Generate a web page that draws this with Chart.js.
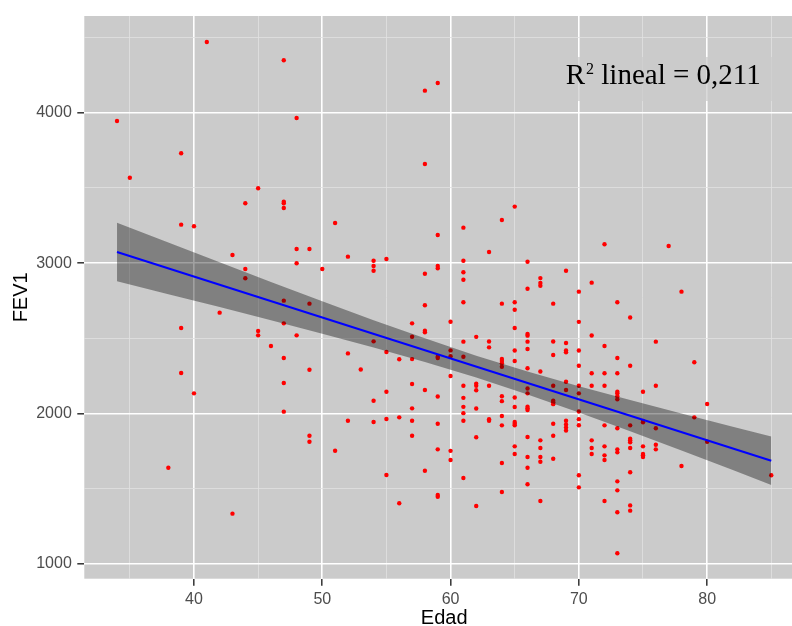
<!DOCTYPE html>
<html>
<head>
<meta charset="utf-8">
<script src="https://cdn.jsdelivr.net/npm/chart.js@4/dist/chart.umd.min.js"></script>
<style>
html,body{margin:0;padding:0;overflow:hidden;background:#ffffff;width:792px;height:626px}
#wrap{width:792px;height:626px;overflow:hidden;position:relative}
canvas{display:block}
</style>
</head>
<body>
<div id="wrap"><canvas id="c" width="804" height="626"></canvas></div>
<script>
const edad = [
  34,
  35,
  38,
  39,39,39,39,
  40,40,
  41,
  42,
  43,43,
  44,44,44,
  45,45,45,
  46,
  47,47,47,47,47,47,47,47,47,
  48,48,48,48,
  49,49,49,49,49,
  50,
  51,51,
  52,52,52,
  53,
  54,54,54,54,54,54,
  55,55,55,55,55,
  56,56,56,
  57,57,57,57,57,57,57,
  58,58,58,58,58,58,58,58,
  59,59,59,59,59,59,59,59,59,59,59,
  60,60,60,60,60,60,
  61,61,61,61,61,61,61,61,61,61,61,61,61,
  62,62,62,62,62,62,62,
  63,63,63,63,63,63,
  64,64,64,64,64,64,64,64,64,64,64,64,
  65,65,65,65,65,65,65,65,65,65,65,65,65,
  66,66,66,66,66,66,66,66,66,66,66,66,66,66,66,66,
  67,67,67,67,67,67,67,67,67,
  68,68,68,68,68,68,68,68,68,68,
  69,69,69,69,69,69,69,69,69,69,
  70,70,70,70,70,70,70,70,70,70,70,
  71,71,71,71,71,71,71,
  72,72,72,72,72,72,72,72,72,
  73,73,73,73,73,73,73,73,73,73,73,73,73,73,
  74,74,74,74,74,74,74,74,74,74,
  75,75,75,75,75,75,75,
  76,76,76,76,76,
  77,
  78,78,
  79,79,
  80,80,
  85
];
const fev1 = [
  3946,
  3568,
  1638,
  3731,3256,2568,2268,
  3245,2133,
  4472,
  2670,
  3054,1332,
  3398,2961,2899,
  3498,2548,2519,
  2448,
  4350,3409,3398,3367,2750,2599,2368,2202,2011,
  3966,3094,2999,2519,
  3094,2730,2290,1851,1811,
  2961,
  3267,1751,
  3043,2399,1951,
  2292,
  3016,2981,2949,2479,2084,1942,
  3027,2408,2144,1962,1589,
  2360,1973,1401,
  2599,2510,2361,2195,2033,1951,1851,
  4148,3660,2929,2719,2550,2539,2155,1618,
  4199,3187,2981,2966,2377,2368,2112,1931,1760,1456,1445,
  2610,2419,2380,2248,1750,1689,
  3236,3016,2939,2889,2739,2477,2377,2184,2103,2043,2001,1951,1569,
  2509,2197,2183,2154,2032,1841,1383,
  3074,2478,2439,2184,1961,1950,
  3287,2730,2362,2348,2333,2310,2114,2081,1982,1920,1669,1476,
  3376,2739,2689,2568,2418,2348,2105,2042,1942,1931,1920,1780,1729,
  3009,2829,2528,2517,2477,2428,2300,2165,2133,2044,2033,2022,1842,1709,1638,1528,
  2900,2868,2849,2278,1820,1769,1709,1678,1416,
  2730,2478,2388,2184,2084,2073,2061,1931,1851,1698,
  2949,2468,2418,2406,2210,2155,1951,1926,1905,1885,
  2810,2609,2418,2317,2184,2133,2012,1961,1921,1588,1507,
  2870,2518,2267,2184,1820,1769,1729,
  3125,2448,2267,2184,1920,1780,1720,1689,1416,
  2739,2368,2267,2144,2133,2114,2094,1901,1760,1740,1547,1487,1341,1068,
  2638,2317,1920,1831,1820,1807,1769,1608,1387,1352,
  2144,1950,1940,1780,1729,1720,1709,
  2477,2184,1901,1791,1760,
  3114,
  2810,1649,
  2340,1973,
  2062,1811,
  1588
];

// Fitted linear regression line (ends)
const fitEdad = [34, 85];
const fitFev1 = [3074, 1684];

// Confidence band
const bandEdad  = [34, 38, 42, 46, 50, 54, 58, 62, 66, 70, 74, 78, 82, 85];
const bandUpper = [3269, 3137, 3005, 2875, 2746, 2620, 2499, 2384, 2279, 2181, 2088, 1998, 1910, 1845];
const bandLower = [2879, 2793, 2707, 2619, 2530, 2438, 2342, 2238, 2125, 2005, 1880, 1752, 1622, 1523];

// Axis ticks
const xTicks = [35, 40, 45, 50, 55, 60, 65, 70, 75, 80, 85];
const xLabels = [40, 50, 60, 70, 80];
const yTicks = [1000, 1500, 2000, 2500, 3000, 3500, 4000, 4500];
const yLabels = [1000, 2000, 3000, 4000];

const annoMain = 'R';
const annoSup = '2';
const annoRest = ' lineal = 0,211';

const SANS = '"Liberation Sans", Arial, Helvetica, sans-serif';
const SERIF = '"Liberation Serif", "Times New Roman", Times, serif';
const PANEL = '#cbcbcb';

const panelBg = {
  id: 'panelBg',
  beforeDraw(chart) {
    const {ctx, chartArea: a} = chart;
    ctx.save();
    ctx.fillStyle = PANEL;
    ctx.fillRect(a.left, a.top, a.right - a.left, a.bottom - a.top);
    ctx.restore();
  },
  beforeDatasetsDraw(chart) {
    const {ctx} = chart;
    ctx.save();
    ctx.fillStyle = 'rgba(203,203,203,0.7)';
    ctx.fillRect(578, 57, 195, 44);
    ctx.restore();
  },
  afterDraw(chart) {
    const {ctx} = chart;
    ctx.save();
    ctx.fillStyle = '#000000';
    ctx.textBaseline = 'alphabetic';
    ctx.textAlign = 'left';
    let x = 565.7;
    ctx.font = '29px ' + SERIF;
    ctx.fillText(annoMain, x, 84);
    x += ctx.measureText(annoMain).width + 1;
    ctx.font = '16px ' + SERIF;
    ctx.fillText(annoSup, x, 73.5);
    x += ctx.measureText(annoSup).width;
    ctx.font = '29px ' + SERIF;
    ctx.fillText(annoRest, x, 84);
    ctx.restore();
  }
};

const isMajorX = v => xLabels.includes(v);
const isMajorY = v => yLabels.includes(v);

new Chart(document.getElementById('c'), {
  type: 'line',
  data: {
    datasets: [
      {
        label: 'fit',
        data: fitEdad.map((x, i) => ({x, y: fitFev1[i]})),
        borderColor: '#0000ff',
        borderWidth: 2,
        pointRadius: 0,
        fill: false,
        tension: 0,
        order: 0
      },
      {
        label: 'upper',
        data: bandEdad.map((x, i) => ({x, y: bandUpper[i]})),
        borderColor: 'rgba(0,0,0,0)',
        borderWidth: 0,
        pointRadius: 0,
        backgroundColor: 'rgba(0,0,0,0.37)',
        fill: '+1',
        tension: 0,
        order: 1
      },
      {
        label: 'lower',
        data: bandEdad.map((x, i) => ({x, y: bandLower[i]})),
        borderColor: 'rgba(0,0,0,0)',
        borderWidth: 0,
        pointRadius: 0,
        fill: false,
        tension: 0,
        order: 1
      },
      {
        label: 'points',
        data: edad.map((x, i) => ({x, y: fev1[i]})),
        showLine: false,
        pointRadius: 2.2,
        pointBackgroundColor: '#ff0000',
        pointBorderWidth: 0,
        pointBorderColor: '#ff0000',
        order: 2
      }
    ]
  },
  options: {
    responsive: false,
    animation: false,
    events: [],
    layout: {autoPadding: false, padding: {top: 16, right: 0, bottom: 0, left: 0}},
    plugins: {legend: {display: false}, tooltip: {enabled: false}},
    scales: {
      x: {
        type: 'linear',
        min: 31.45,
        max: 87.55,
        afterBuildTicks: s => { s.ticks = xTicks.map(v => ({value: v})); },
        afterFit: s => { s.height = 47.3; s.paddingLeft = 0; s.paddingRight = 0; },
        border: {display: false},
        grid: {
          color: c => isMajorX(c.tick.value) ? '#ffffff' : 'rgba(225,225,225,0.9)',
          lineWidth: c => isMajorX(c.tick.value) ? 1.6 : 0.9,
          drawTicks: true,
          tickLength: 7,
          tickColor: c => isMajorX(c.tick.value) ? '#333333' : 'rgba(0,0,0,0)',
          tickWidth: 1.5
        },
        ticks: {
          autoSkip: false,
          maxRotation: 0,
          padding: 4,
          color: '#4d4d4d',
          font: {size: 16, family: SANS},
          callback: v => isMajorX(v) ? String(v) : ''
        },
        title: {
          display: true,
          text: 'Edad',
          color: '#000000',
          font: {size: 20, family: SANS, lineHeight: 0.8},
          padding: {top: 0, bottom: 0}
        }
      },
      y: {
        type: 'linear',
        min: 899,
        max: 4645,
        afterBuildTicks: s => { s.ticks = yTicks.map(v => ({value: v})); },
        afterFit: s => { s.width = 84.3; s.paddingTop = 0; s.paddingBottom = 0; },
        border: {display: false},
        grid: {
          color: c => isMajorY(c.tick.value) ? '#ffffff' : 'rgba(225,225,225,0.9)',
          lineWidth: c => isMajorY(c.tick.value) ? 1.6 : 0.9,
          drawTicks: true,
          tickLength: 7,
          tickColor: c => isMajorY(c.tick.value) ? '#333333' : 'rgba(0,0,0,0)',
          tickWidth: 1.5
        },
        ticks: {
          autoSkip: false,
          padding: 5.5,
          color: '#4d4d4d',
          font: {size: 16, family: SANS},
          callback: v => isMajorY(v) ? String(v) : ''
        },
        title: {
          display: true,
          text: 'FEV1',
          color: '#000000',
          font: {size: 20, family: SANS, lineHeight: 1.2},
          padding: {top: 9, bottom: 0}
        }
      }
    }
  },
  plugins: [panelBg]
});
</script>
</body>
</html>
